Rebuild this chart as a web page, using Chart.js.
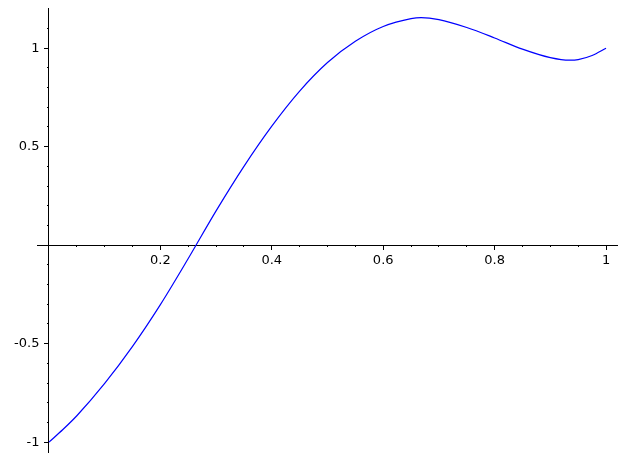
<!DOCTYPE html>
<html>
<head>
<meta charset="utf-8">
<script src="https://cdn.jsdelivr.net/npm/chart.js@4/dist/chart.umd.min.js"></script>
<style>
  html, body { margin: 0; padding: 0; background: #fff; }
  #wrap { width: 623px; height: 472px; }
</style>
</head>
<body>
<div id="wrap"><canvas id="plot"></canvas></div>
<script>
// values
const xs = [0, 0.025, 0.05, 0.1, 0.15, 0.2, 0.25, 0.3, 0.35, 0.4, 0.45, 0.5,
            0.55, 0.6, 0.65, 0.668, 0.7, 0.75, 0.8, 0.85, 0.9, 0.935, 0.95, 0.975, 1];
const ys = [-1, -0.936, -0.866, -0.702, -0.514, -0.302, -0.068, 0.174, 0.400, 0.604, 0.782, 0.927,
            1.035, 1.110, 1.150, 1.155, 1.145, 1.105, 1.052, 0.995, 0.952, 0.939, 0.942, 0.963, 1.0];

const xMajorTicks = [0.2, 0.4, 0.6, 0.8, 1];
const xMinorTicks = [0.05, 0.1, 0.15, 0.25, 0.3, 0.35, 0.45, 0.5, 0.55, 0.65, 0.7, 0.75, 0.85, 0.9, 0.95];
const yMajorTicks = [-1, -0.5, 0.5, 1];
const yMinorTicks = [-0.9, -0.8, -0.7, -0.6, -0.4, -0.3, -0.2, -0.1, 0.1, 0.2, 0.3, 0.4, 0.6, 0.7, 0.8, 0.9, 1.1];

const xMin = -0.0215, xMax = 1.0197;
const yMin = -1.05, yMax = 1.204;

const points = xs.map((x, i) => ({ x: x, y: ys[i] }));

function setTicks(list) {
  return function (axis) { axis.ticks = list.map(v => ({ value: v })); };
}

const font = { family: 'DejaVu Sans', size: 13 };

function axisOpts(axis, min, max, pos, list, tl, pad, labels, fmt) {
  return {
    type: 'linear',
    axis: axis,
    min: min,
    max: max,
    position: pos,
    afterBuildTicks: setTicks(list),
    border: { display: labels, color: '#000', width: 1 },
    grid: { drawOnChartArea: false, drawTicks: true, tickLength: tl, tickColor: '#000', tickWidth: 1 },
    ticks: {
      display: labels,
      autoSkip: false,
      maxRotation: 0,
      padding: pad,
      color: '#000',
      font: font,
      callback: fmt
    }
  };
}

// y labels sit right-aligned on the axis line, so pad them with a space
const fmtX = v => String(v);
const fmtY = v => String(v) + '\u2007\u200A';

new Chart(document.getElementById('plot'), {
  type: 'line',
  data: {
    datasets: [{
      data: points,
      borderColor: '#0000ff',
      borderWidth: 1.2,
      pointRadius: 0,
      pointBorderWidth: 0,
      fill: false,
      cubicInterpolationMode: 'monotone',
      xAxisID: 'x',
      yAxisID: 'y'
    }]
  },
  options: {
    responsive: true,
    maintainAspectRatio: false,
    animation: false,
    layout: { padding: { left: 37, right: 6, top: 8, bottom: 20 } },
    plugins: { legend: { display: false }, tooltip: { enabled: false } },
    scales: {
      xMinor: axisOpts('x', xMin, xMax, { y: 0 }, xMinorTicks, 2, 0, false, fmtX),
      yMinor: axisOpts('y', yMin, yMax, { x: 0 }, yMinorTicks, 2, 0, false, fmtY),
      x: axisOpts('x', xMin, xMax, { y: 0 }, xMajorTicks, 4, 4, true, fmtX),
      y: axisOpts('y', yMin, yMax, { x: 0 }, yMajorTicks, 4, 0, true, fmtY)
    }
  }
});
</script>
</body>
</html>
